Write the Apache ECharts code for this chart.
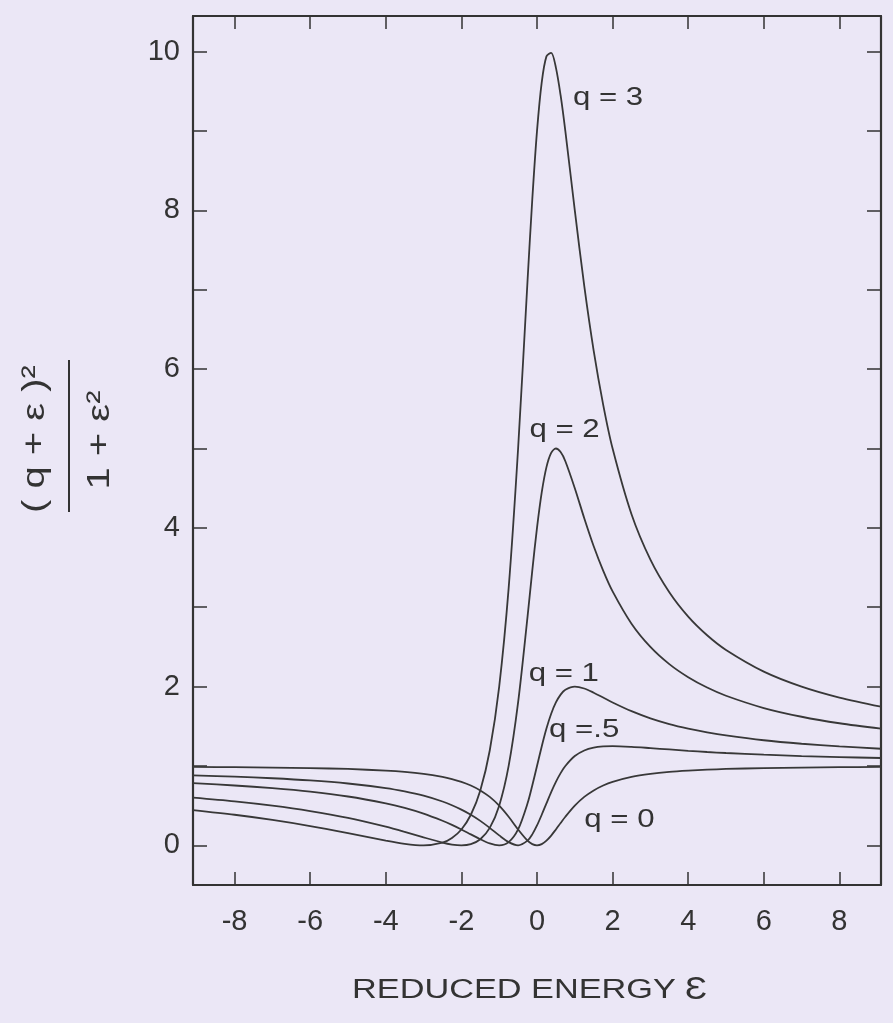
<!DOCTYPE html>
<html>
<head>
<meta charset="utf-8">
<script src="https://cdn.jsdelivr.net/npm/echarts@6/dist/echarts.min.js"></script>
<style>
  html, body { margin: 0; padding: 0; background: #ebe7f6; }
  #chart { width: 893px; height: 1023px; }
</style>
</head>
<body>
<div id="chart"></div>
<script>
// reduced energy values the curves were read at
var eps = [-9.1, -8, -7, -6, -5, -4, -3.5, -3, -2.5, -2.25, -2, -1.75, -1.5, -1.25, -1, -0.75, -0.5, -0.25, -0.125,
	0, 0.125, 0.25, 0.375, 0.5, 0.625, 0.75, 1, 1.25, 1.5, 1.75, 2, 2.5, 3, 3.5, 4, 4.5, 5, 6, 7, 8, 9.1];

// profile heights, one list per q
var q0 = [0.988, 0.985, 0.98, 0.973, 0.962, 0.941, 0.925, 0.9, 0.862, 0.835, 0.8, 0.754, 0.692, 0.61, 0.5, 0.36, 0.2, 0.059, 0.015,
	0, 0.015, 0.059, 0.123, 0.2, 0.281, 0.36, 0.5, 0.61, 0.692, 0.754, 0.8, 0.862, 0.9, 0.925, 0.941, 0.953, 0.962, 0.973, 0.98, 0.985, 0.988];
var q05 = [0.882, 0.865, 0.845, 0.818, 0.779, 0.721, 0.679, 0.625, 0.552, 0.505, 0.45, 0.385, 0.308, 0.22, 0.125, 0.04, 0, 0.059, 0.138,
	0.25, 0.385, 0.529, 0.671, 0.8, 0.91, 1.0, 1.125, 1.195, 1.231, 1.246, 1.25, 1.241, 1.225, 1.208, 1.191, 1.176, 1.163, 1.142, 1.125, 1.112, 1.1];
var q1 = [0.783, 0.754, 0.72, 0.676, 0.615, 0.529, 0.472, 0.4, 0.31, 0.258, 0.2, 0.138, 0.077, 0.024, 0, 0.04, 0.2, 0.529, 0.754,
	1, 1.246, 1.471, 1.658, 1.8, 1.899, 1.96, 2, 1.976, 1.923, 1.862, 1.8, 1.69, 1.6, 1.528, 1.471, 1.424, 1.385, 1.324, 1.28, 1.246, 1.217];
var q2 = [0.601, 0.554, 0.5, 0.432, 0.346, 0.235, 0.17, 0.1, 0.034, 0.01, 0, 0.015, 0.077, 0.22, 0.5, 1, 1.8, 2.882, 3.462,
	4, 4.446, 4.765, 4.945, 5, 4.955, 4.84, 4.5, 4.122, 3.769, 3.462, 3.2, 2.793, 2.5, 2.283, 2.118, 1.988, 1.885, 1.73, 1.62, 1.538, 1.47];
var q3 = [0.444, 0.385, 0.32, 0.243, 0.154, 0.059, 0.019, 0, 0.034, 0.093, 0.2, 0.385, 0.692, 1.195, 2, 3.24, 5, 7.118, 8.138,
	9, 9.615, 9.941, 9.986, 9.8, 9.449, 9, 8, 7.049, 6.231, 5.554, 5, 4.172, 3.6, 3.189, 2.882, 2.647, 2.462, 2.189, 2, 1.862, 1.747];

var curves = [q0, q05, q1, q2, q3];
var curveNames = ['q = 0', 'q =.5', 'q = 1', 'q = 2', 'q = 3'];
// where each curve name sits (eps, height)
var nameAtEps = [1.25, 0.32, -0.22, -0.2, 0.95];
var nameAtVal = [0.32, 1.45, 2.16, 5.23, 9.42];

var xTicks = [-8, -6, -4, -2, 0, 2, 4, 6, 8];
var yTicks = [0, 1, 2, 3, 4, 5, 6, 7, 8, 9, 10];
var yLabels = [0, 2, 4, 6, 8, 10];

var ink = '#333333';
var fam = '"Liberation Sans", Arial, sans-serif';

function pairs(ys) {
	return eps.map(function(x, i) { return [x, ys[i]]; });
}

var myChart = echarts.init(document.getElementById('chart'));

var series = curves.map(function(ys, i) {
	return {
		name : curveNames[i],
		type : 'line',
		data : pairs(ys),
		showSymbol : false,
		smooth : 0.3,
		silent : true,
		lineStyle : { color : '#383838', width : 1.8 }
	};
});

function frameX(pos, labels) {
	return {
		type : 'value',
		position : pos,
		min : -9.1,
		max : 9.1,
		axisLine : { onZero : false, lineStyle : { color : '#333', width : 2.2 } },
		axisTick : { inside : true, length : 13, customValues : xTicks, lineStyle : { color : '#333', width : 1.5 } },
		axisLabel : { show : labels, customValues : xTicks, margin : 22, fontSize : 29, fontFamily : fam, color : ink },
		splitLine : { show : false }
	};
}

function frameY(pos, labels) {
	return {
		type : 'value',
		position : pos,
		min : -0.5,
		max : 10.45,
		axisLine : { show : true, onZero : false, lineStyle : { color : '#333', width : 2.2 } },
		axisTick : { show : true, inside : true, length : 14, customValues : yTicks, lineStyle : { color : '#333', width : 1.5 } },
		axisLabel : { show : labels, customValues : yLabels, margin : 13, fontSize : 29, fontFamily : fam, color : ink },
		splitLine : { show : false }
	};
}

var option = {
	backgroundColor : '#ebe7f6',
	animation : false,
	grid : { left : 193, right : 12, top : 16, bottom : 138 },
	xAxis : [ frameX('bottom', true), frameX('top', false) ],
	yAxis : [ frameY('left', true), frameY('right', false) ],
	series : series,
	graphic : [
		// y axis title as a fraction
		{
			type : 'text', x : 35, y : 439, rotation : Math.PI / 2, scaleX : 1.25,
			style : { text : '( q + ε )²', fontSize : 32, fontFamily : fam, fill : ink,
				textAlign : 'center', textVerticalAlign : 'middle' }
		},
		{
			type : 'line', shape : { x1 : 69, y1 : 360, x2 : 69, y2 : 512 },
			style : { stroke : ink, lineWidth : 2 }
		},
		{
			type : 'text', x : 100, y : 440, rotation : Math.PI / 2, scaleX : 1.25,
			style : { text : '1 + ε²', fontSize : 32, fontFamily : fam, fill : ink,
				textAlign : 'center', textVerticalAlign : 'middle' }
		},
		// x axis title
		{
			type : 'text', x : 352, y : 991, scaleX : 1.27,
			style : { text : 'REDUCED ENERGY', fontSize : 27, fontFamily : fam, fill : ink,
				textAlign : 'left', textVerticalAlign : 'middle' }
		},
		{
			type : 'text', x : 685, y : 990, scaleX : 1.15,
			style : { text : 'Ɛ', fontSize : 32, fontFamily : fam, fill : ink,
				textAlign : 'left', textVerticalAlign : 'middle' }
		}
	]
};
myChart.setOption(option);

// curve names, placed through the axes
var nameMarks = curveNames.map(function(n, i) {
	var p = myChart.convertToPixel({ xAxisIndex : 0, yAxisIndex : 0 }, [nameAtEps[i], nameAtVal[i]]);
	return {
		type : 'text', x : p[0], y : p[1], scaleX : 1.2,
		style : { text : n, fontSize : 26, fontFamily : fam, fill : ink,
			textAlign : 'left', textVerticalAlign : 'middle' }
	};
});
myChart.setOption({ graphic : option.graphic.concat(nameMarks) });
</script>
</body>
</html>
